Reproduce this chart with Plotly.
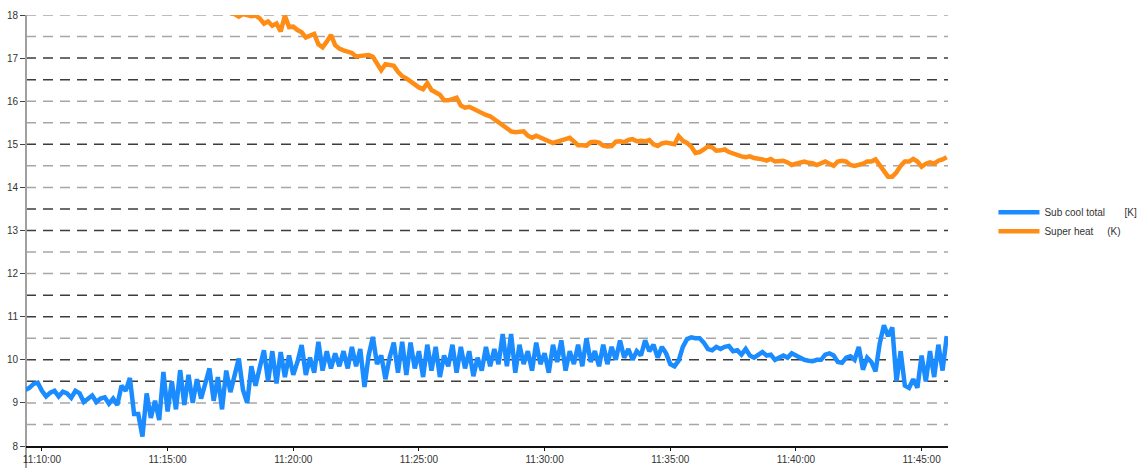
import pandas as pd
import plotly.graph_objects as go

# Sampling: one reading every 10 s
BLUE_START = "2023-03-14 11:09:20"
SERIES_END = "2023-03-14 11:46:00"
STEP = "10s"

# Sub cool total [K]
SUB_COOL = [
    9.30, 9.35, 9.44, 9.47, 9.28, 9.15, 9.24, 9.28, 9.15, 9.26, 9.22, 9.12,
    9.28, 9.22, 9.02, 9.08, 9.17, 9.02, 9.10, 9.13, 8.98, 9.10, 8.95, 9.40,
    9.28, 9.58, 8.74, 8.74,
    8.22, 9.22, 8.65, 9.05, 8.60, 9.72, 8.80, 9.50, 8.85, 9.76, 8.95, 9.65,
    9.00, 9.55, 9.10, 9.45, 9.80, 9.05, 9.60, 8.85, 9.75, 9.25, 9.60, 10.03,
    9.30, 9.00, 9.85, 9.40, 9.82, 10.22, 9.50, 10.20, 9.45, 10.18, 9.60, 10.10,
    9.65, 9.95, 10.34, 9.65, 10.05, 9.70, 10.42, 9.75, 10.20, 9.80, 10.15, 9.85,
    10.20, 9.80, 10.30, 9.85, 10.25, 9.37, 10.10, 10.53, 9.90, 10.10, 9.55, 10.05,
    10.40, 9.70, 10.42, 9.65, 10.40, 9.80,
    10.20, 9.60, 10.35, 9.75, 10.30, 9.60, 10.10, 9.85, 10.35, 9.70, 10.30, 9.80,
    10.20, 9.62, 10.05, 9.75, 10.30, 9.85, 10.25, 9.90, 10.60, 9.85, 10.60, 9.70,
    10.35, 9.90, 10.20, 9.75, 10.40, 9.90, 10.15, 9.70, 10.35, 9.95, 10.45, 9.75,
    10.20, 9.90, 10.35, 9.85, 10.50, 9.95, 10.20, 9.85, 10.35, 9.90, 10.30, 10.00,
    10.45, 10.05, 10.25, 10.00, 10.20, 10.10, 10.45, 10.20, 10.35, 10.05, 10.30, 10.15,
    9.90, 9.85, 9.98, 10.30, 10.48, 10.52, 10.50, 10.50, 10.40, 10.25, 10.22, 10.30,
    10.25, 10.30, 10.32, 10.20, 10.22, 10.12, 10.25, 10.10, 10.05, 10.12, 10.18, 10.10,
    10.12, 10.00, 10.05, 10.10, 10.05, 10.15, 10.10, 10.05, 10.00, 9.98, 9.97, 10.00,
    10.00, 10.12, 10.15, 10.10, 9.95, 9.93, 10.05, 10.08, 10.00, 10.30, 9.77, 10.05,
    9.95, 9.73, 10.38, 10.80, 10.55, 10.75, 9.50, 10.20, 9.40, 9.35, 9.55, 9.35,
    10.10, 9.50, 10.20, 9.60, 10.35, 9.75, 10.55,
]

# Super heat (K)
SUPER_HEAT = [
    18.12, 18.05, 18.02, 17.96, 18.02, 18.00, 17.97, 17.99, 17.92, 17.80, 17.85, 17.75,
    17.80, 17.62, 17.98, 17.72, 17.73, 17.65, 17.60, 17.48, 17.52, 17.56, 17.32, 17.25,
    17.38, 17.54, 17.30, 17.22, 17.18, 17.14, 17.12, 17.04, 17.05, 17.08, 17.07, 17.03,
    16.85, 16.72, 16.86, 16.85, 16.82, 16.68, 16.58, 16.53, 16.45, 16.38, 16.32, 16.28,
    16.42, 16.26, 16.20, 16.15, 16.02, 16.02, 16.05, 16.08, 15.90, 15.85, 15.87, 15.82,
    15.78, 15.72, 15.68, 15.65, 15.58, 15.52, 15.45, 15.35,
    15.30, 15.28, 15.30, 15.30, 15.20, 15.15, 15.20, 15.16, 15.12, 15.08, 15.03, 15.06,
    15.10, 15.12, 15.15, 15.05, 14.98, 14.98, 14.97, 15.05, 15.06, 15.04, 14.97, 14.95,
    14.96, 15.06, 15.07, 15.05, 15.10, 15.12, 15.07, 15.08, 15.07, 15.10, 15.00, 14.96,
    15.02, 15.04, 15.02, 15.00, 15.19, 15.08, 15.03, 14.95, 14.80, 14.82, 14.88, 14.95,
    14.93, 14.85, 14.86, 14.88, 14.82, 14.78, 14.76, 14.72, 14.70, 14.72, 14.68, 14.67,
    14.65, 14.62, 14.66, 14.60, 14.60, 14.62, 14.58, 14.52, 14.55, 14.57, 14.60, 14.57,
    14.56, 14.52, 14.55, 14.60, 14.55, 14.50, 14.60, 14.62, 14.60, 14.52, 14.50, 14.52,
    14.55, 14.60, 14.60, 14.65, 14.52, 14.40, 14.25, 14.25, 14.35, 14.50, 14.60, 14.60,
    14.66, 14.60, 14.48, 14.55, 14.58, 14.55, 14.62, 14.65, 14.70,
]

Y_TICKS = list(range(8, 19))
GRID_DARK = [17, 16.5, 15, 13.5, 13, 11.5, 11, 10, 9.5]
GRID_LIGHT = [18, 17.5, 16, 15.5, 14.5, 14, 12.5, 12, 10.5, 9, 8.5]

t_blue = pd.date_range(BLUE_START, periods=len(SUB_COOL), freq=STEP)
t_orange = pd.date_range(end=SERIES_END, periods=len(SUPER_HEAT), freq=STEP)

FONT = "Liberation Sans, Arial, sans-serif"
NB = "\u00a0"

fig = go.Figure()
fig.add_trace(go.Scatter(
    x=t_blue, y=SUB_COOL, mode="lines",
    line=dict(color="#1a8cff", width=4.5),
    name="Sub cool total" + NB * 7 + "[K]",
))
fig.add_trace(go.Scatter(
    x=t_orange, y=SUPER_HEAT, mode="lines",
    line=dict(color="#ff8c14", width=4.5),
    name="Super heat" + NB * 5 + "(K)",
))

# dashed horizontal guide lines
for lvl in GRID_DARK + GRID_LIGHT:
    fig.add_shape(
        type="line", xref="paper", x0=0, x1=1, yref="y", y0=lvl, y1=lvl,
        line=dict(color="#3c3c3c" if lvl in GRID_DARK else "#a6a6a6",
                  width=1.5, dash="10px,7px"),
        layer="below",
    )

# value axis spine, running down to the bottom edge
fig.add_shape(
    type="line", xref="paper", x0=0, x1=0, yref="paper", y0=-0.06, y1=1.0,
    line=dict(color="#a0a0a0", width=2), layer="below",
)

fig.update_layout(
    width=1141, height=468,
    margin=dict(l=26, r=193, t=15, b=22, autoexpand=False),
    paper_bgcolor="white", plot_bgcolor="white",
    font=dict(family=FONT, size=10, color="#333333"),
    showlegend=True,
    legend=dict(
        x=1.0493, xanchor="left", y=0.576, yanchor="top",
        itemwidth=41,
        font=dict(family=FONT, size=10, color="#333333"),
        bgcolor="rgba(0,0,0,0)", tracegroupgap=0,
    ),
    xaxis=dict(
        type="date",
        range=["2023-03-14 11:09:22", "2023-03-14 11:46:03"],
        tick0="2023-03-14 11:10:00", dtick=300000,
        tickformat="%H:%M:%S",
        showgrid=False, zeroline=False,
        showline=True, linecolor="#111111", linewidth=1.5,
        ticks="outside", ticklen=3, tickcolor="#111111",
        tickfont=dict(family=FONT, size=10, color="#333333"),
    ),
    yaxis=dict(
        range=[8, 18], tickvals=Y_TICKS,
        showgrid=False, zeroline=False, showline=False,
        ticks="outside", ticklen=5, tickcolor="#444444",
        tickfont=dict(family=FONT, size=10, color="#333333"),
    ),
)

fig.write_html("out.html")
